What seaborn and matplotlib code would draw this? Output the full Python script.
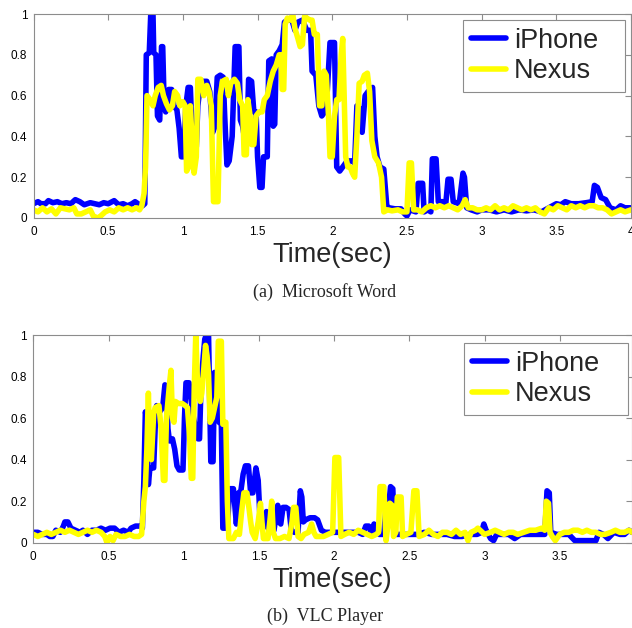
import numpy as np
import pandas as pd
import matplotlib
matplotlib.use("Agg")
import matplotlib.pyplot as plt
from matplotlib.ticker import FormatStrFormatter
import seaborn as sns

# ---------------- data ----------------
series_names = ["iPhone", "Nexus"]
series_colors = ["#0000ff", "#ffff00"]
panel_captions = ["(a)  Microsoft Word", "(b)  VLC Player"]
x_label = "Time(sec)"
x_ticks = [0, 0.5, 1, 1.5, 2, 2.5, 3, 3.5, 4]
y_ticks = [0, 0.2, 0.4, 0.6, 0.8, 1]

word_iphone_t = [0.00, 0.03, 0.05, 0.08, 0.10, 0.13, 0.16, 0.19, 0.22, 0.25, 0.28, 0.31, 0.34, 0.38, 0.41, 0.44, 0.47, 0.50, 0.54, 0.57, 0.60, 0.63, 0.66, 0.68, 0.71, 0.73, 0.745, 0.75, 0.755, 0.775, 0.785, 0.80, 0.805, 0.82, 0.83, 0.845, 0.85, 0.857, 0.865, 0.875, 0.885, 0.895, 0.905, 0.925, 0.94, 0.96, 0.975, 0.99, 1.005, 1.02, 1.035, 1.05, 1.06, 1.075, 1.09, 1.10, 1.12, 1.16, 1.18, 1.20, 1.215, 1.23, 1.25, 1.27, 1.28, 1.295, 1.31, 1.33, 1.35, 1.375, 1.385, 1.40, 1.415, 1.43, 1.44, 1.46, 1.475, 1.49, 1.50, 1.515, 1.53, 1.54, 1.565, 1.575, 1.595, 1.605, 1.615, 1.625, 1.645, 1.665, 1.68, 1.70, 1.73, 1.75, 1.77, 1.80, 1.83, 1.855, 1.865, 1.89, 1.91, 1.93, 1.95, 1.965, 1.985, 2.015, 2.03, 2.05, 2.07, 2.10, 2.13, 2.15, 2.165, 2.18, 2.20, 2.22, 2.24, 2.27, 2.285, 2.30, 2.32, 2.345, 2.365, 2.38, 2.42, 2.46, 2.485, 2.50, 2.52, 2.56, 2.575, 2.605, 2.615, 2.64, 2.66, 2.67, 2.695, 2.71, 2.74, 2.76, 2.775, 2.795, 2.81, 2.85, 2.875, 2.885, 2.90, 2.93, 2.97, 3.00, 3.05, 3.10, 3.15, 3.20, 3.25, 3.30, 3.35, 3.40, 3.45, 3.50, 3.53, 3.56, 3.60, 3.65, 3.70, 3.74, 3.755, 3.775, 3.80, 3.83, 3.86, 3.90, 3.93, 3.96, 4.00]
word_iphone_v = [0.07, 0.08, 0.07, 0.07, 0.085, 0.075, 0.08, 0.07, 0.075, 0.07, 0.09, 0.08, 0.065, 0.075, 0.07, 0.065, 0.075, 0.07, 0.085, 0.065, 0.07, 0.06, 0.07, 0.08, 0.065, 0.06, 0.07, 0.45, 0.80, 0.81, 1.0, 1.0, 0.81, 0.80, 0.50, 0.48, 0.62, 0.84, 0.84, 0.55, 0.52, 0.55, 0.63, 0.63, 0.55, 0.53, 0.44, 0.30, 0.30, 0.55, 0.64, 0.64, 0.45, 0.30, 0.35, 0.55, 0.67, 0.67, 0.62, 0.42, 0.45, 0.69, 0.70, 0.69, 0.50, 0.26, 0.28, 0.40, 0.84, 0.84, 0.48, 0.45, 0.38, 0.42, 0.68, 0.67, 0.52, 0.52, 0.30, 0.15, 0.15, 0.30, 0.30, 0.77, 0.78, 0.45, 0.46, 0.80, 0.82, 0.85, 0.96, 0.97, 0.97, 0.92, 0.96, 0.97, 0.92, 0.92, 0.72, 0.70, 0.55, 0.50, 0.52, 0.60, 0.86, 0.86, 0.25, 0.23, 0.25, 0.28, 0.28, 0.27, 0.55, 0.54, 0.42, 0.60, 0.62, 0.64, 0.40, 0.30, 0.25, 0.24, 0.06, 0.05, 0.045, 0.045, 0.02, 0.01, 0.04, 0.03, 0.17, 0.17, 0.03, 0.04, 0.03, 0.29, 0.29, 0.08, 0.08, 0.07, 0.19, 0.19, 0.08, 0.07, 0.22, 0.20, 0.05, 0.04, 0.03, 0.04, 0.04, 0.03, 0.04, 0.03, 0.04, 0.035, 0.04, 0.03, 0.05, 0.07, 0.065, 0.08, 0.07, 0.07, 0.075, 0.08, 0.16, 0.15, 0.10, 0.09, 0.05, 0.04, 0.06, 0.05, 0.05]

word_nexus_t = [0.00, 0.03, 0.06, 0.09, 0.12, 0.15, 0.18, 0.21, 0.24, 0.27, 0.29, 0.32, 0.35, 0.38, 0.40, 0.43, 0.45, 0.48, 0.51, 0.54, 0.57, 0.60, 0.63, 0.66, 0.69, 0.71, 0.725, 0.74, 0.75, 0.76, 0.78, 0.80, 0.815, 0.835, 0.855, 0.87, 0.89, 0.91, 0.93, 0.945, 0.965, 0.98, 1.00, 1.015, 1.025, 1.04, 1.05, 1.06, 1.075, 1.09, 1.10, 1.12, 1.14, 1.16, 1.175, 1.19, 1.205, 1.235, 1.25, 1.265, 1.29, 1.305, 1.32, 1.345, 1.365, 1.38, 1.40, 1.41, 1.425, 1.435, 1.45, 1.46, 1.475, 1.49, 1.51, 1.53, 1.545, 1.565, 1.585, 1.605, 1.625, 1.645, 1.655, 1.665, 1.675, 1.685, 1.70, 1.72, 1.735, 1.75, 1.77, 1.785, 1.80, 1.815, 1.83, 1.85, 1.865, 1.88, 1.90, 1.915, 1.93, 1.945, 1.96, 1.975, 1.985, 2.00, 2.015, 2.03, 2.045, 2.06, 2.07, 2.08, 2.09, 2.105, 2.12, 2.135, 2.15, 2.165, 2.18, 2.20, 2.215, 2.235, 2.25, 2.265, 2.285, 2.31, 2.33, 2.345, 2.37, 2.40, 2.44, 2.47, 2.50, 2.515, 2.53, 2.545, 2.57, 2.60, 2.63, 2.66, 2.69, 2.72, 2.75, 2.78, 2.81, 2.84, 2.87, 2.89, 2.91, 2.94, 2.97, 3.00, 3.03, 3.06, 3.09, 3.12, 3.15, 3.18, 3.21, 3.24, 3.27, 3.30, 3.33, 3.36, 3.39, 3.42, 3.45, 3.48, 3.51, 3.54, 3.57, 3.60, 3.63, 3.66, 3.69, 3.72, 3.75, 3.78, 3.81, 3.84, 3.87, 3.90, 3.93, 3.96, 4.00]
word_nexus_v = [0.04, 0.03, 0.05, 0.03, 0.045, 0.02, 0.05, 0.045, 0.04, 0.05, 0.02, 0.02, 0.03, 0.04, 0.01, 0.0, 0.01, 0.03, 0.04, 0.03, 0.05, 0.04, 0.05, 0.04, 0.05, 0.04, 0.06, 0.12, 0.25, 0.60, 0.58, 0.55, 0.60, 0.64, 0.65, 0.60, 0.56, 0.53, 0.55, 0.62, 0.60, 0.55, 0.57, 0.55, 0.23, 0.25, 0.55, 0.40, 0.22, 0.30, 0.68, 0.68, 0.60, 0.65, 0.62, 0.55, 0.08, 0.08, 0.60, 0.67, 0.68, 0.60, 0.66, 0.68, 0.66, 0.58, 0.55, 0.31, 0.31, 0.58, 0.50, 0.36, 0.36, 0.50, 0.52, 0.52, 0.58, 0.60, 0.67, 0.72, 0.75, 0.80, 0.80, 0.63, 0.63, 0.95, 0.98, 0.97, 1.0, 0.93, 0.88, 0.84, 0.85, 0.99, 0.98, 0.97, 0.97, 0.90, 0.90, 0.55, 0.55, 0.72, 0.70, 0.50, 0.30, 0.30, 0.50, 0.58, 0.58, 0.80, 0.88, 0.60, 0.30, 0.25, 0.25, 0.22, 0.20, 0.40, 0.66, 0.67, 0.70, 0.71, 0.62, 0.38, 0.30, 0.27, 0.20, 0.03, 0.04, 0.035, 0.04, 0.03, 0.03, 0.27, 0.27, 0.04, 0.04, 0.03, 0.05, 0.06, 0.05, 0.06, 0.05, 0.06, 0.05, 0.04, 0.06, 0.09, 0.05, 0.05, 0.04, 0.04, 0.05, 0.04, 0.06, 0.04, 0.05, 0.04, 0.06, 0.05, 0.04, 0.05, 0.04, 0.05, 0.03, 0.02, 0.05, 0.04, 0.06, 0.05, 0.04, 0.06, 0.05, 0.06, 0.05, 0.06, 0.06, 0.05, 0.05, 0.04, 0.02, 0.03, 0.04, 0.03, 0.04]

vlc_iphone_t = [0.00, 0.03, 0.06, 0.09, 0.11, 0.13, 0.15, 0.18, 0.20, 0.21, 0.23, 0.25, 0.28, 0.31, 0.33, 0.36, 0.39, 0.42, 0.45, 0.48, 0.51, 0.54, 0.57, 0.60, 0.63, 0.65, 0.68, 0.71, 0.725, 0.735, 0.745, 0.755, 0.765, 0.775, 0.80, 0.81, 0.82, 0.84, 0.86, 0.875, 0.885, 0.895, 0.905, 0.925, 0.94, 0.955, 0.97, 0.995, 1.005, 1.015, 1.035, 1.05, 1.065, 1.08, 1.095, 1.105, 1.115, 1.13, 1.14, 1.15, 1.165, 1.17, 1.18, 1.195, 1.205, 1.215, 1.225, 1.235, 1.25, 1.26, 1.29, 1.305, 1.33, 1.35, 1.365, 1.38, 1.395, 1.41, 1.43, 1.445, 1.46, 1.48, 1.495, 1.505, 1.52, 1.535, 1.55, 1.56, 1.58, 1.60, 1.625, 1.635, 1.645, 1.66, 1.68, 1.70, 1.715, 1.735, 1.76, 1.775, 1.785, 1.795, 1.81, 1.84, 1.87, 1.89, 1.915, 1.94, 1.97, 2.00, 2.04, 2.08, 2.12, 2.16, 2.19, 2.21, 2.23, 2.25, 2.265, 2.28, 2.30, 2.33, 2.345, 2.36, 2.375, 2.39, 2.40, 2.43, 2.46, 2.50, 2.55, 2.60, 2.65, 2.70, 2.75, 2.80, 2.85, 2.90, 2.95, 2.98, 2.995, 3.01, 3.04, 3.06, 3.08, 3.12, 3.16, 3.20, 3.24, 3.28, 3.32, 3.36, 3.40, 3.415, 3.43, 3.44, 3.48, 3.52, 3.56, 3.60, 3.65, 3.70, 3.74, 3.76, 3.79, 3.82, 3.86, 3.90, 3.93, 3.96, 3.98]
vlc_iphone_v = [0.05, 0.05, 0.04, 0.04, 0.03, 0.03, 0.06, 0.05, 0.08, 0.10, 0.10, 0.07, 0.06, 0.05, 0.06, 0.04, 0.06, 0.06, 0.07, 0.06, 0.07, 0.07, 0.05, 0.06, 0.05, 0.07, 0.08, 0.08, 0.07, 0.30, 0.63, 0.60, 0.28, 0.36, 0.36, 0.55, 0.66, 0.63, 0.65, 0.76, 0.75, 0.55, 0.49, 0.50, 0.45, 0.37, 0.35, 0.35, 0.60, 0.77, 0.77, 0.68, 0.60, 0.55, 0.50, 0.50, 0.76, 0.90, 0.98, 1.0, 1.0, 0.79, 0.39, 0.39, 0.82, 0.80, 0.65, 0.58, 0.57, 0.07, 0.07, 0.26, 0.26, 0.09, 0.24, 0.25, 0.33, 0.37, 0.37, 0.24, 0.24, 0.36, 0.30, 0.15, 0.10, 0.08, 0.15, 0.07, 0.06, 0.06, 0.18, 0.10, 0.09, 0.17, 0.17, 0.16, 0.06, 0.05, 0.05, 0.25, 0.22, 0.10, 0.11, 0.12, 0.12, 0.11, 0.06, 0.05, 0.05, 0.05, 0.05, 0.05, 0.05, 0.05, 0.04, 0.08, 0.08, 0.04, 0.09, 0.05, 0.04, 0.04, 0.17, 0.16, 0.27, 0.26, 0.04, 0.04, 0.04, 0.04, 0.04, 0.05, 0.04, 0.04, 0.04, 0.03, 0.03, 0.04, 0.04, 0.05, 0.09, 0.06, 0.02, 0.01, 0.04, 0.04, 0.04, 0.02, 0.04, 0.04, 0.04, 0.04, 0.04, 0.25, 0.24, 0.05, 0.04, 0.04, 0.04, 0.01, 0.01, 0.01, 0.01, 0.05, 0.04, 0.02, 0.05, 0.04, 0.04, 0.06, 0.05]

vlc_nexus_t = [0.00, 0.03, 0.06, 0.09, 0.12, 0.15, 0.18, 0.21, 0.24, 0.27, 0.30, 0.33, 0.36, 0.39, 0.42, 0.45, 0.475, 0.49, 0.51, 0.53, 0.55, 0.58, 0.61, 0.64, 0.67, 0.70, 0.72, 0.735, 0.745, 0.755, 0.765, 0.775, 0.785, 0.80, 0.81, 0.835, 0.85, 0.865, 0.875, 0.885, 0.895, 0.905, 0.915, 0.925, 0.935, 0.945, 0.965, 0.99, 1.01, 1.025, 1.04, 1.05, 1.06, 1.07, 1.08, 1.09, 1.10, 1.11, 1.12, 1.135, 1.145, 1.155, 1.165, 1.175, 1.19, 1.205, 1.22, 1.23, 1.25, 1.26, 1.28, 1.29, 1.30, 1.33, 1.35, 1.37, 1.385, 1.40, 1.42, 1.435, 1.445, 1.455, 1.475, 1.495, 1.51, 1.52, 1.53, 1.56, 1.575, 1.585, 1.595, 1.61, 1.64, 1.67, 1.70, 1.72, 1.73, 1.745, 1.76, 1.78, 1.80, 1.83, 1.85, 1.865, 1.88, 1.90, 1.93, 1.96, 1.99, 2.005, 2.03, 2.045, 2.07, 2.10, 2.13, 2.16, 2.19, 2.22, 2.25, 2.28, 2.295, 2.305, 2.33, 2.345, 2.36, 2.37, 2.385, 2.395, 2.41, 2.42, 2.445, 2.455, 2.48, 2.51, 2.53, 2.55, 2.565, 2.60, 2.63, 2.66, 2.69, 2.72, 2.75, 2.78, 2.81, 2.84, 2.87, 2.89, 2.91, 2.94, 2.955, 2.97, 3.00, 3.04, 3.07, 3.10, 3.13, 3.16, 3.19, 3.22, 3.26, 3.30, 3.34, 3.38, 3.40, 3.41, 3.425, 3.435, 3.45, 3.47, 3.50, 3.53, 3.56, 3.59, 3.62, 3.65, 3.68, 3.71, 3.74, 3.77, 3.80, 3.84, 3.87, 3.90, 3.93, 3.96, 3.98]
vlc_nexus_v = [0.04, 0.03, 0.04, 0.05, 0.04, 0.05, 0.06, 0.05, 0.06, 0.05, 0.04, 0.05, 0.06, 0.05, 0.06, 0.05, 0.03, 0.00, 0.03, 0.01, 0.04, 0.03, 0.03, 0.04, 0.03, 0.03, 0.04, 0.20, 0.27, 0.45, 0.72, 0.45, 0.40, 0.62, 0.65, 0.66, 0.55, 0.30, 0.30, 0.60, 0.68, 0.76, 0.83, 0.60, 0.58, 0.68, 0.67, 0.67, 0.66, 0.65, 0.50, 0.31, 0.31, 0.75, 1.0, 0.80, 0.72, 0.68, 0.72, 0.85, 0.95, 0.90, 0.81, 0.58, 0.60, 0.65, 0.70, 0.97, 0.97, 0.57, 0.58, 0.20, 0.02, 0.02, 0.05, 0.04, 0.15, 0.24, 0.24, 0.16, 0.10, 0.05, 0.02, 0.10, 0.19, 0.10, 0.02, 0.02, 0.12, 0.20, 0.05, 0.02, 0.02, 0.03, 0.02, 0.10, 0.17, 0.17, 0.03, 0.02, 0.04, 0.05, 0.09, 0.05, 0.03, 0.03, 0.03, 0.04, 0.05, 0.41, 0.41, 0.03, 0.04, 0.05, 0.04, 0.06, 0.05, 0.04, 0.03, 0.04, 0.05, 0.27, 0.27, 0.01, 0.10, 0.19, 0.18, 0.03, 0.05, 0.22, 0.22, 0.03, 0.04, 0.05, 0.25, 0.25, 0.03, 0.04, 0.06, 0.04, 0.03, 0.05, 0.05, 0.04, 0.06, 0.04, 0.05, 0.01, 0.05, 0.06, 0.07, 0.06, 0.04, 0.05, 0.06, 0.05, 0.04, 0.05, 0.05, 0.04, 0.05, 0.06, 0.06, 0.07, 0.06, 0.20, 0.19, 0.05, 0.03, 0.01, 0.04, 0.05, 0.05, 0.06, 0.06, 0.05, 0.06, 0.05, 0.05, 0.04, 0.04, 0.05, 0.06, 0.05, 0.05, 0.06, 0.05]

panels = [
    dict(iphone=(word_iphone_t, word_iphone_v), nexus=(word_nexus_t, word_nexus_v), xmax=4.0),
    dict(iphone=(vlc_iphone_t, vlc_iphone_v), nexus=(vlc_nexus_t, vlc_nexus_v), xmax=3.98),
]

# ---------------- style ----------------
sns.set_style("white")
plt.rcParams["font.family"] = ["Liberation Sans", "DejaVu Sans"]

W, H = 632, 628
fig = plt.figure(figsize=(W / 100, H / 100), dpi=100)

# axes boxes in pixels: (left, top, right, bottom)
boxes = [(33.5, 14, 631, 218), (33.3, 335, 632, 542.7)]
# legend boxes in pixels: (left, top, right)
legend_boxes = [(463, 20, 625), (464, 343, 628)]
caption_y = [292.5, 616]
edge = "#8c8c8c"

for i, (p, box, lb) in enumerate(zip(panels, boxes, legend_boxes)):
    l, t, r, b = box
    ax = fig.add_axes([l / W, 1 - b / H, (r - l) / W, (b - t) / H])
    frames = []
    for name, key in zip(series_names, ["iphone", "nexus"]):
        tt, vv = p[key]
        frames.append(pd.DataFrame({"t": tt, "v": vv, "device": name}))
    df = pd.concat(frames, ignore_index=True)
    sns.lineplot(data=df, x="t", y="v", hue="device", hue_order=series_names,
                 palette=dict(zip(series_names, series_colors)),
                 estimator=None, sort=False, linewidth=4.0, ax=ax)
    ax.set_xlim(0, p["xmax"])
    ax.set_ylim(0, 1)
    ax.set_xticks([x for x in x_ticks if x <= p["xmax"]])
    ax.set_yticks(y_ticks)
    ax.xaxis.set_major_formatter(FormatStrFormatter("%g"))
    ax.yaxis.set_major_formatter(FormatStrFormatter("%g"))
    ax.tick_params(direction="in", top=True, right=True, length=4, width=0.8,
                   color=edge, labelsize=8.5, labelcolor="black")
    ax.tick_params(axis="x", pad=6)
    ax.tick_params(axis="y", pad=4.5)
    for s in ax.spines.values():
        s.set_color(edge)
        s.set_linewidth(0.8)
    ax.set_xlabel(x_label, fontsize=19.5, labelpad=3)
    ax.set_ylabel("")

    # legend box placed in axes fraction
    lx0 = (lb[0] - l) / (r - l)
    lx1 = (lb[2] - l) / (r - l)
    ly1 = 1 - (lb[1] - t) / (b - t)
    handles, labels = ax.get_legend_handles_labels()
    leg = ax.legend(handles, labels, loc="upper left",
                    bbox_to_anchor=(lx0, 0.5, lx1 - lx0, ly1 - 0.5),
                    mode="expand", borderaxespad=0, fontsize=19.5,
                    frameon=True, fancybox=False, framealpha=1,
                    edgecolor=edge, handlelength=1.3, handletextpad=0.3,
                    borderpad=0.28, labelspacing=0.18)
    leg.get_frame().set_linewidth(0.8)
    for h in leg.legend_handles:
        h.set_linewidth(4.0)
    fig.text(325 / W, 1 - caption_y[i] / H, panel_captions[i],
             ha="center", va="center", fontsize=13,
             family=["Liberation Serif", "DejaVu Serif"])

fig.savefig("out.png", dpi=100)
